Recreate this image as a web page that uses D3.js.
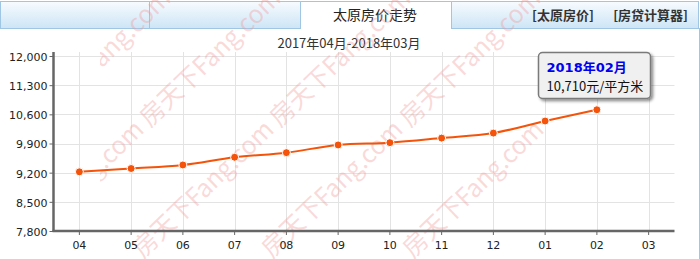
<!DOCTYPE html>
<html>
<head>
<meta charset="utf-8">
<script src="https://cdn.jsdelivr.net/npm/d3@7"></script>
<style>
  body { margin: 0; background: #fff; }
  svg { display: block; }
</style>
</head>
<body>
<div id="chart"></div>
<script>
// Data
let months = ['04', '05', '06', '07', '08', '09', '10', '11', '12', '01', '02', '03'];
let prices = [9220, 9300, 9385, 9570, 9680, 9865, 9920, 10030, 10150, 10440, 10710];
let yTicks = [7800, 8500, 9200, 9900, 10600, 11300, 12000];
let tabLabels = ['太原房价走势'];
let linkLabels = ['[太原房价]', '[房贷计算器]'];
let title = '2017年04月-2018年03月';
let tipTitle = '2018年02月';
let tipText = '10,710元/平方米';

let width = 700;
let height = 259;

let svg = d3.select('#chart')
  .append('svg')
  .attr('width', width)
  .attr('height', height);

let defs = svg.append('defs');

let grad = defs.append('linearGradient')
  .attr('id', 'tabgrad')
  .attr('x1', 0).attr('y1', 0).attr('x2', 0).attr('y2', 1);
grad.append('stop').attr('offset', '0%').attr('stop-color', '#f7fbfe');
grad.append('stop').attr('offset', '100%').attr('stop-color', '#cde5f6');

let shadow = defs.append('filter').attr('id', 'tipshadow')
  .attr('x', '-20%').attr('y', '-20%').attr('width', '150%').attr('height', '160%');
shadow.append('feDropShadow')
  .attr('dx', 2).attr('dy', 2).attr('stdDeviation', 1.5)
  .attr('flood-color', '#000').attr('flood-opacity', 0.45);

defs.append('clipPath').attr('id', 'wmclip')
  .append('rect').attr('x', 100).attr('y', 0).attr('width', 460).attr('height', height);

// Header tabs
let header = svg.append('g');
let tabBorder = '#9fc6e3';

header.append('rect').attr('x', 0.5).attr('y', 1.5).attr('width', 149).attr('height', 27)
  .attr('fill', 'url(#tabgrad)').attr('stroke', tabBorder);
header.append('rect').attr('x', 149.5).attr('y', 1.5).attr('width', 151).attr('height', 27)
  .attr('fill', 'url(#tabgrad)').attr('stroke', tabBorder);
header.append('rect').attr('x', 451.5).attr('y', 1.5).attr('width', 247).attr('height', 27)
  .attr('fill', 'url(#tabgrad)').attr('stroke', tabBorder);
// active tab
header.append('path')
  .attr('d', 'M300.5,29 V1.5 H451.5 V29')
  .attr('fill', '#fff').attr('stroke', tabBorder);

header.append('text')
  .attr('x', 375).attr('y', 20)
  .attr('text-anchor', 'middle')
  .attr('font-family', '"Noto Sans CJK SC", sans-serif')
  .attr('font-size', 14)
  .attr('fill', '#222')
  .text(tabLabels[0]);

header.append('text')
  .attr('x', 532).attr('y', 20)
  .attr('font-family', '"Noto Sans CJK SC", sans-serif')
  .attr('font-size', 13)
  .attr('font-weight', 'bold')
  .attr('fill', '#333')
  .text(linkLabels[0]);
header.append('text')
  .attr('x', 688).attr('y', 20)
  .attr('text-anchor', 'end')
  .attr('font-family', '"Noto Sans CJK SC", sans-serif')
  .attr('font-size', 13)
  .attr('font-weight', 'bold')
  .attr('fill', '#333')
  .text(linkLabels[1]);

// right border of the box
svg.append('line')
  .attr('x1', 699.5).attr('x2', 699.5).attr('y1', 28).attr('y2', height)
  .attr('stroke', tabBorder);

// Title
svg.append('text')
  .attr('x', 349).attr('y', 48)
  .attr('text-anchor', 'middle')
  .attr('font-family', '"Noto Sans CJK SC", sans-serif')
  .attr('font-size', 13)
  .attr('fill', '#333')
  .text(title);

// Scales
let plotLeft = 53.5, plotRight = 674.5, plotTop = 56, plotBottom = 231;

let x = d3.scaleBand()
  .domain(months)
  .range([plotLeft, plotRight])
  .padding(0);

let y = d3.scaleLinear()
  .domain([7800, 12000])
  .range([plotBottom, plotTop]);

let cx = function(d, i) { return x(months[i]) + x.bandwidth() / 2; };

// Grid
let grid = svg.append('g');
grid.selectAll('.hg')
  .data(yTicks.slice(1))
  .enter().append('line')
  .attr('x1', plotLeft).attr('x2', plotRight)
  .attr('y1', function(d) { return Math.round(y(d)) + 0.5; })
  .attr('y2', function(d) { return Math.round(y(d)) + 0.5; })
  .attr('stroke', '#e3e3e3');
grid.selectAll('.vg')
  .data(months)
  .enter().append('line')
  .attr('x1', function(d) { return Math.round(x(d) + x.bandwidth() / 2) + 0.5; })
  .attr('x2', function(d) { return Math.round(x(d) + x.bandwidth() / 2) + 0.5; })
  .attr('y1', plotTop - 4).attr('y2', plotBottom)
  .attr('stroke', '#e3e3e3');

// Watermarks (the site's background image, cut off at its edges)
let marks = [[40, 128], [150, 128], [280, 128], [410, 128], [13, 259], [143, 259], [272, 259], [413, 259]];
svg.append('g')
  .attr('clip-path', 'url(#wmclip)')
  .selectAll('text')
  .data(marks)
  .enter().append('text')
  .attr('transform', function(d) { return 'translate(' + d[0] + ',' + d[1] + ') rotate(-44)'; })
  .attr('font-family', '"Noto Sans CJK SC", sans-serif')
  .attr('font-size', 25)
  .attr('textLength', 184)
  .attr('lengthAdjust', 'spacingAndGlyphs')
  .attr('fill', '#f29a9a')
  .attr('fill-opacity', 0.38)
  .text('房天下Fang.com');

// Axes
let yAxis = d3.axisLeft(y).tickValues(yTicks).tickSize(4).tickPadding(2)
  .tickFormat(d3.format(','));
let xAxis = d3.axisBottom(x).tickSize(4).tickPadding(6);

let gy = svg.append('g')
  .attr('transform', 'translate(' + plotLeft + ',0)')
  .call(yAxis);
let gx = svg.append('g')
  .attr('transform', 'translate(0,' + plotBottom + ')')
  .call(xAxis);

[gx, gy].forEach(function(g) {
  g.select('.domain').attr('stroke', '#666').attr('stroke-width', 2.5);
  g.selectAll('.tick line').attr('stroke', '#666');
  g.selectAll('text')
    .attr('font-family', '"DejaVu Sans", Verdana, sans-serif')
    .attr('font-size', 11)
    .attr('fill', '#222');
});
gy.select('.domain').attr('d', 'M0,' + (plotTop - 4) + 'V' + plotBottom);
gx.select('.domain').attr('d', 'M' + (plotLeft - 1) + ',0H' + plotRight);
gy.selectAll('.tick text').attr('dy', '0.4em');

// Price line
let line = d3.line()
  .x(cx)
  .y(function(d) { return y(d); })
  .curve(d3.curveMonotoneX);

svg.append('path')
  .datum(prices)
  .attr('d', line)
  .attr('fill', 'none')
  .attr('stroke', '#f55309')
  .attr('stroke-width', 2);

svg.append('g').selectAll('circle')
  .data(prices)
  .enter().append('circle')
  .attr('cx', cx)
  .attr('cy', function(d) { return y(d); })
  .attr('r', 4)
  .attr('fill', '#f55309')
  .attr('stroke', '#fff')
  .attr('stroke-width', 1);

// Tooltip
let tip = svg.append('g').attr('transform', 'translate(538.5,52.5)');
tip.append('rect')
  .attr('width', 112).attr('height', 46)
  .attr('rx', 4).attr('ry', 4)
  .attr('fill', '#f0f0f0')
  .attr('stroke', '#7a7a7a')
  .attr('stroke-width', 1.5)
  .attr('filter', 'url(#tipshadow)');
tip.append('text')
  .attr('x', 8).attr('y', 19)
  .attr('font-family', '"DejaVu Sans", "Noto Sans CJK SC", sans-serif')
  .attr('font-size', 13)
  .attr('font-weight', 'bold')
  .attr('fill', '#0000ee')
  .text(tipTitle);
tip.append('text')
  .attr('x', 8).attr('y', 38)
  .attr('font-family', '"Noto Sans CJK SC", sans-serif')
  .attr('font-size', 13)
  .attr('fill', '#111')
  .text(tipText);
</script>
</body>
</html>
